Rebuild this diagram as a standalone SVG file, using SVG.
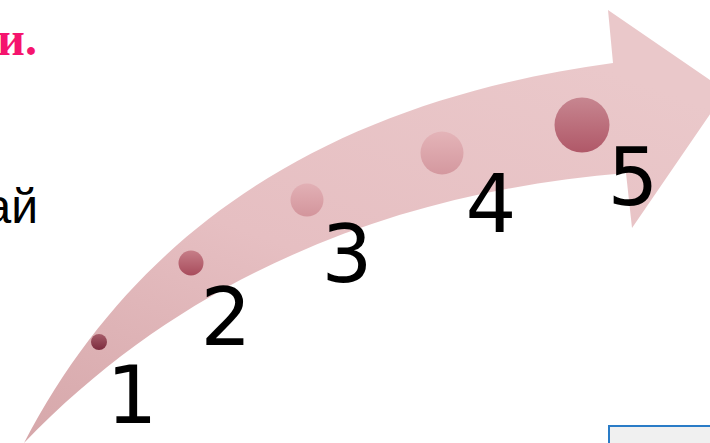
<svg xmlns="http://www.w3.org/2000/svg" width="710" height="443" viewBox="0 0 710 443">
<style>
.num{font-family:"DejaVu Sans",sans-serif;font-size:80px;fill:#000;text-anchor:middle}
</style>
<defs>
<linearGradient id="arrowG" x1="0" y1="1" x2="0.6" y2="0">
<stop offset="0" stop-color="#d6a7aa"/>
<stop offset="0.5" stop-color="#e6bfc2"/>
<stop offset="1" stop-color="#eac8ca"/>
</linearGradient>
<linearGradient id="c1" x1="0" y1="0" x2="0" y2="1"><stop offset="0" stop-color="#a65c69"/><stop offset="1" stop-color="#7c2c3e"/></linearGradient>
<linearGradient id="c2" x1="0" y1="0" x2="0" y2="1"><stop offset="0" stop-color="#c67e88"/><stop offset="1" stop-color="#a84c5c"/></linearGradient>
<linearGradient id="c3" x1="0" y1="0" x2="0" y2="1"><stop offset="0" stop-color="#e2b0b5"/><stop offset="1" stop-color="#d3959c"/></linearGradient>
<linearGradient id="c4" x1="0" y1="0" x2="0" y2="1"><stop offset="0" stop-color="#e4b4b8"/><stop offset="1" stop-color="#d4989f"/></linearGradient>
<linearGradient id="c5" x1="0" y1="0" x2="0" y2="1"><stop offset="0" stop-color="#c78690"/><stop offset="1" stop-color="#b05868"/></linearGradient>
</defs>
<text x="37" y="55" font-family="Liberation Serif,serif" font-weight="bold" font-size="48" fill="#f5146e" text-anchor="end">и.</text>
<text x="38" y="223" font-family="Liberation Sans,sans-serif" font-size="48" fill="#000" text-anchor="end">ай</text>
<g id="arrow">
<path d="M24,443 C140,220 340,100 613,63 L608,10 L726,91 L632,228 L626,173 C420,190 200,260 24,443 Z" fill="url(#arrowG)"/>
</g>
<g id="step1"><circle cx="99" cy="342" r="8" fill="url(#c1)"/><text class="num" x="132" y="423">1</text></g>
<g id="step2"><circle cx="191" cy="263" r="12.5" fill="url(#c2)"/><text class="num" x="226" y="345">2</text></g>
<g id="step3"><circle cx="307" cy="200" r="16.5" fill="url(#c3)"/><text class="num" x="347" y="282">3</text></g>
<g id="step4"><circle cx="442" cy="153" r="21.5" fill="url(#c4)"/><text class="num" x="491" y="232">4</text></g>
<g id="step5"><circle cx="582" cy="125" r="27.5" fill="url(#c5)"/><text class="num" x="633" y="205">5</text></g>
<g id="box"><rect x="609" y="426" width="110" height="30" fill="#f0f0f0" stroke="#2a7cc7" stroke-width="2"/></g>
<g id="connectors"/>
</svg>
